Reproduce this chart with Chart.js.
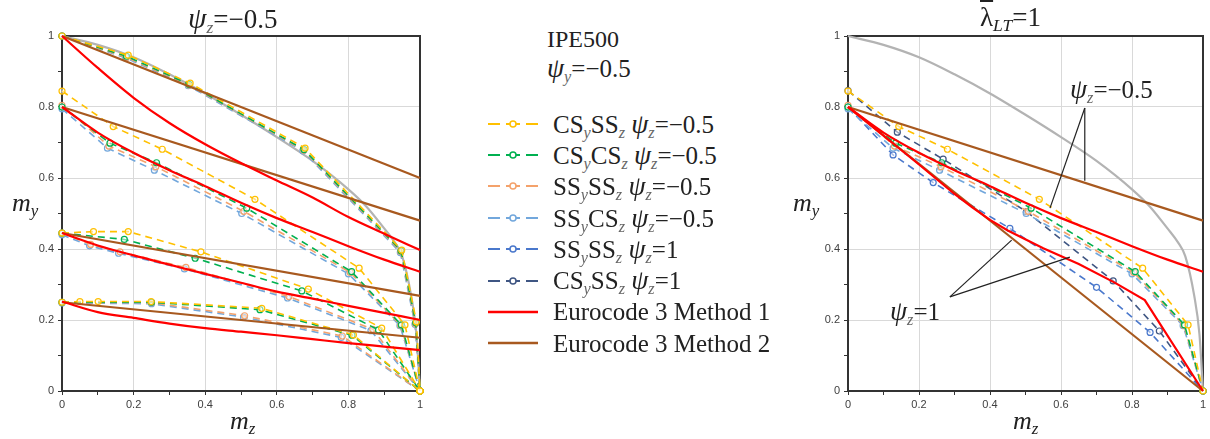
<!DOCTYPE html>
<html lang="en">
<head>
<meta charset="UTF-8">
<title>IPE500 interaction curves</title>
<script src="https://cdn.jsdelivr.net/npm/chart.js"></script>
<style>
  body { margin: 0; background: #fff; }
  #page { position: relative; width: 1210px; height: 439px; overflow: hidden;
          font-family: "Liberation Serif", "Times New Roman", serif; color: #222; }
  canvas { position: absolute; top: 0; }
  .txt { position: absolute; font-size: 25px; line-height: 1; white-space: nowrap; }
  sub { font-size: 0.65em; line-height: 0; vertical-align: -0.3em; }
  .psi i { font-size: 1.1em; }
  .psi sub { font-style: italic; color: #666; }
  .ax { position: absolute; font-size: 26px; font-style: italic; line-height: 1; }
  #legend { position: absolute; left: 488px; top: 108px; }
  .row { height: 31.4px; line-height: 31.4px; font-size: 25px; white-space: nowrap; display: flex; align-items: center; }
  .row svg { margin-right: 15px; flex: none; }
</style>
</head>
<body>
<div id="page">
  <canvas id="left" width="440" height="439" style="left:0"></canvas>
  <canvas id="right" width="420" height="439" style="left:790px"></canvas>

  <div class="txt psi" style="left:188px; top:4px; font-size:27px"><i>ψ</i><sub>z</sub>=−0.5</div>
  <div class="txt" style="left:980px; top:4px; font-size:27px"><span style="text-decoration:overline">λ</span><sub><i>LT</i></sub>=1</div>

  <div class="ax" style="left:12px; top:190px">m<sub>y</sub></div>
  <div class="ax" style="left:230px; top:408px">m<sub>z</sub></div>
  <div class="ax" style="left:793px; top:190px">m<sub>y</sub></div>
  <div class="ax" style="left:1013px; top:408px">m<sub>z</sub></div>

  <div class="txt" style="left:547px; top:27px; font-size:24px">IPE500</div>
  <div class="txt psi" style="left:547px; top:54px"><i>ψ</i><sub>y</sub>=−0.5</div>
  <div id="legend"></div>

  <div class="txt psi" style="left:1070px; top:75px"><i>ψ</i><sub>z</sub>=−0.5</div>
  <div class="txt psi" style="left:890px; top:297px"><i>ψ</i><sub>z</sub>=1</div>
</div>

<script>
// interaction curve (grey)
const greyCurve = [[0,1],[0.1,0.975],[0.2,0.94],[0.3,0.892],[0.4,0.838],[0.5,0.778],[0.6,0.715],
  [0.7,0.648],[0.8,0.568],[0.85,0.52],[0.9,0.458],[0.93,0.418],[0.95,0.38],[0.975,0.27],[0.99,0.16],[1,0]];

// psi_z = -0.5, one curve for each starting level
const csySSz = [
  [[0,1],[0.185,0.946],[0.358,0.867],[0.679,0.684],[0.949,0.397],[0.99,0.195],[1,0]],
  [[0,0.845],[0.143,0.745],[0.28,0.681],[0.539,0.54],[0.83,0.346],[0.958,0.186],[1,0]],
  [[0,0.445],[0.088,0.449],[0.185,0.449],[0.388,0.392],[0.688,0.287],[0.893,0.177],[1,0]],
  [[0,0.25],[0.05,0.252],[0.101,0.252],[0.249,0.252],[0.558,0.233],[0.814,0.158],[1,0]]
];
const csyCSz = [
  [[0,1],[0.18,0.943],[0.355,0.864],[0.676,0.68],[0.947,0.395],[0.988,0.192],[1,0]],
  [[0,0.8],[0.134,0.698],[0.264,0.643],[0.516,0.515],[0.809,0.336],[0.948,0.186],[1,0]],
  [[0,0.445],[0.174,0.427],[0.372,0.374],[0.67,0.282],[0.884,0.172],[1,0]],
  [[0,0.25],[0.25,0.25],[0.553,0.229],[0.81,0.157],[1,0]]
];
const ssySSz = [
  [[0,1],[0.18,0.94],[0.355,0.862],[0.675,0.678],[0.946,0.393],[0.987,0.19],[1,0]],
  [[0,0.805],[0.131,0.69],[0.262,0.632],[0.508,0.506],[0.805,0.334],[0.946,0.185],[1,0]],
  [[0,0.445],[0.08,0.413],[0.162,0.392],[0.346,0.348],[0.634,0.266],[0.868,0.174],[1,0]],
  [[0,0.25],[0.25,0.249],[0.51,0.212],[0.783,0.155],[1,0]]
];
const ssyCSz = [
  [[0,1],[0.178,0.938],[0.353,0.86],[0.673,0.676],[0.945,0.39],[0.986,0.188],[1,0]],
  [[0,0.795],[0.127,0.684],[0.258,0.622],[0.502,0.5],[0.8,0.33],[0.944,0.184],[1,0]],
  [[0,0.44],[0.077,0.409],[0.158,0.388],[0.342,0.344],[0.63,0.262],[0.863,0.17],[1,0]],
  [[0,0.248],[0.25,0.246],[0.507,0.208],[0.78,0.151],[1,0]]
];
const ec3m1 = [
  [[0,1],[0.1,0.91],[0.2,0.826],[0.3,0.755],[0.4,0.695],[0.5,0.642],[0.6,0.593],[0.7,0.545],[0.8,0.49],[0.9,0.443],[1,0.397]],
  [[0,0.8],[0.1,0.728],[0.2,0.671],[0.3,0.622],[0.4,0.577],[0.5,0.53],[0.6,0.487],[0.7,0.448],[0.8,0.408],[0.9,0.37],[1,0.336]],
  [[0,0.445],[0.1,0.41],[0.2,0.382],[0.3,0.356],[0.4,0.33],[0.5,0.305],[0.6,0.28],[0.7,0.26],[0.8,0.24],[0.9,0.22],[1,0.2]],
  [[0,0.252],[0.1,0.222],[0.2,0.206],[0.3,0.19],[0.4,0.177],[0.5,0.167],[0.6,0.157],[0.7,0.146],[0.8,0.135],[0.9,0.125],[1,0.115]]
];
const ec3m2 = [
  [[0,1],[1,0.6]],
  [[0,0.8],[1,0.48]],
  [[0,0.445],[1,0.268]],
  [[0,0.25],[1,0.15]]
];

// psi_z = 1 (right chart only)
const ssySSz_1 = [[0,0.8],[0.127,0.665],[0.24,0.587],[0.456,0.458],[0.7,0.292],[0.851,0.165],[1,0]];
const csySSz_1 = [[0,0.846],[0.139,0.729],[0.268,0.653],[0.503,0.505],[0.747,0.31],[0.877,0.169],[1,0]];
const ec3m1_1 = [[0,0.8],[0.1,0.719],[0.2,0.638],[0.3,0.555],[0.35,0.517],[0.4,0.482],[0.45,0.452],
  [0.55,0.402],[0.65,0.358],[0.75,0.306],[0.836,0.256],[1,0]];
const ec3m2_1 = [[0,0.8],[1,0]];

// leader lines of the right chart labels (data coords)
const leaderNeg = { from: [0.667, 0.797], to: [[0.569, 0.515], [0.667, 0.592]] };
const leaderOne = { from: [0.287, 0.265], to: [[0.461, 0.425], [0.625, 0.377]] };

const COL = {
  yellow: '#FFC000', green: '#00B050', orange: '#F4A26B', lightblue: '#72A7DC',
  blue: '#4A78CC', navy: '#3F5683', red: '#FF0000', brown: '#A8591F', grey: '#B3B3B3'
};

const legendItems = [
  { color: COL.yellow, dash: true, html: 'CS<sub>y</sub>SS<sub>z</sub> <i>ψ</i><sub>z</sub>=−0.5' },
  { color: COL.green, dash: true, html: 'CS<sub>y</sub>CS<sub>z</sub> <i>ψ</i><sub>z</sub>=−0.5' },
  { color: COL.orange, dash: true, html: 'SS<sub>y</sub>SS<sub>z</sub> <i>ψ</i><sub>z</sub>=−0.5' },
  { color: COL.lightblue, dash: true, html: 'SS<sub>y</sub>CS<sub>z</sub> <i>ψ</i><sub>z</sub>=−0.5' },
  { color: COL.blue, dash: true, html: 'SS<sub>y</sub>SS<sub>z</sub> <i>ψ</i><sub>z</sub>=1' },
  { color: COL.navy, dash: true, html: 'CS<sub>y</sub>SS<sub>z</sub> <i>ψ</i><sub>z</sub>=1' },
  { color: COL.red, dash: false, html: 'Eurocode 3 Method 1' },
  { color: COL.brown, dash: false, html: 'Eurocode 3 Method 2' }
];

const legend = document.getElementById('legend');
legendItems.forEach(it => {
  const row = document.createElement('div');
  row.className = 'row psi';
  const icon = it.dash
    ? `<svg width="50" height="12"><line x1="0" y1="6" x2="50" y2="6" stroke="${it.color}" stroke-width="2" stroke-dasharray="12 6 14 6 12"/><circle cx="25" cy="6" r="3" fill="#fff" stroke="${it.color}" stroke-width="1.5"/></svg>`
    : `<svg width="50" height="12"><line x1="0" y1="6" x2="50" y2="6" stroke="${it.color}" stroke-width="2.5"/></svg>`;
  row.innerHTML = icon + '<span>' + it.html + '</span>';
  legend.appendChild(row);
});

const toXY = c => c.map(p => ({ x: p[0], y: p[1] }));

function dashed(curves, color, order) {
  return curves.map(c => ({
    data: toXY(c), showLine: true, borderColor: color, borderWidth: 1.6, borderDash: [7, 5],
    pointRadius: 3, pointBorderWidth: 1.2, pointBorderColor: color,
    pointBackgroundColor: 'rgba(255,255,255,0.5)', clip: false, order
  }));
}
function solid(curves, color, width, order, smooth) {
  return curves.map(c => ({
    data: toXY(c), showLine: true, borderColor: color, borderWidth: width,
    pointRadius: 0, cubicInterpolationMode: smooth ? 'monotone' : 'default', clip: false, order
  }));
}

const isMajor = v => Math.round(v * 10) % 2 === 0;
function tickLabel(v) {
  if (!isMajor(v)) return '';
  const r = Math.round(v * 10) / 10;
  return r === 0 ? '0' : r === 1 ? '1' : r.toFixed(1);
}

function axis(pos, size) {
  return {
    type: 'linear', position: pos, min: 0, max: 1,
    ticks: {
      stepSize: 0.1, autoSkip: false, maxRotation: 0, padding: pos === 'left' ? 4 : 3,
      color: '#404040', font: { family: '"Liberation Sans", Arial, sans-serif', size: 11 },
      callback: v => tickLabel(v)
    },
    grid: {
      color: c => (c.tick && isMajor(c.tick.value)) ? '#d9d9d9' : 'rgba(0,0,0,0)',
      tickColor: '#333', tickLength: 4, lineWidth: 1
    },
    border: { display: false },
    afterFit: s => { if (pos === 'left') s.width = size; else s.height = size; }
  };
}

const framePlugin = {
  id: 'frame',
  beforeDatasetsDraw(chart) {
    const { ctx, chartArea: a } = chart;
    ctx.save();
    ctx.strokeStyle = '#333';
    ctx.lineWidth = 2;
    ctx.strokeRect(a.left, a.top, a.right - a.left, a.bottom - a.top);
    ctx.restore();
  }
};

const leaderPlugin = {
  id: 'leaders',
  afterDatasetsDraw(chart) {
    const { ctx } = chart, sx = chart.scales.x, sy = chart.scales.y;
    ctx.save();
    ctx.strokeStyle = '#222';
    ctx.lineWidth = 1.2;
    [leaderNeg, leaderOne].forEach(l => {
      l.to.forEach(t => {
        ctx.beginPath();
        ctx.moveTo(sx.getPixelForValue(l.from[0]), sy.getPixelForValue(l.from[1]));
        ctx.lineTo(sx.getPixelForValue(t[0]), sy.getPixelForValue(t[1]));
        ctx.stroke();
      });
    });
    ctx.restore();
  }
};

function makeChart(id, datasets, yWidth, padRight, plugins) {
  return new Chart(document.getElementById(id), {
    type: 'scatter',
    data: { datasets },
    options: {
      responsive: false, animation: false,
      layout: { padding: { top: 36, right: padRight, bottom: 0, left: 0 } },
      plugins: { legend: { display: false }, tooltip: { enabled: false } },
      scales: { x: axis('bottom', 48), y: axis('left', yWidth) }
    },
    plugins
  });
}

// left chart: psi_z = -0.5, all levels
makeChart('left', [
  ...solid(ec3m1, COL.red, 2.2, 1, true),
  ...solid(ec3m2, COL.brown, 2.2, 2, false),
  ...dashed(csySSz, COL.yellow, 3),
  ...dashed(csyCSz, COL.green, 4),
  ...dashed(ssySSz, COL.orange, 5),
  ...dashed(ssyCSz, COL.lightblue, 6),
  ...solid([greyCurve], COL.grey, 2.2, 9, true)
], 62, 20, [framePlugin]);

// right chart: lambda_LT = 1
makeChart('right', [
  ...solid([ec3m1[1]], COL.red, 2.2, 1, true),
  ...solid([ec3m1_1], COL.red, 2.2, 1, false),
  ...solid([ec3m2[1], ec3m2_1], COL.brown, 2.2, 2, false),
  ...dashed([csySSz[1]], COL.yellow, 3),
  ...dashed([csyCSz[1]], COL.green, 4),
  ...dashed([ssySSz[1]], COL.orange, 5),
  ...dashed([ssyCSz[1]], COL.lightblue, 6),
  ...dashed([ssySSz_1], COL.blue, 7),
  ...dashed([csySSz_1], COL.navy, 8),
  ...solid([greyCurve], COL.grey, 2.2, 9, true)
], 58, 7, [framePlugin, leaderPlugin]);
</script>
</body>
</html>
